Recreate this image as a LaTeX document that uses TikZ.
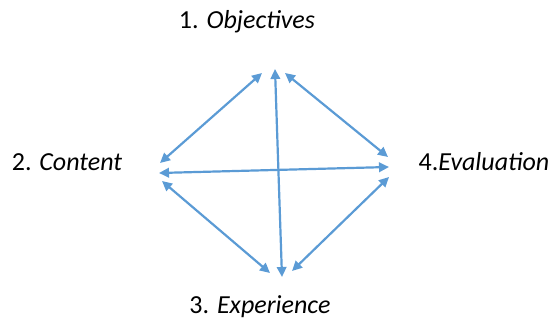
\documentclass[tikz,border=0pt]{standalone}
\usepackage{fontspec}
\setmainfont{Carlito}
\usetikzlibrary{arrows.meta}
\definecolor{arrowblue}{HTML}{5B9BD5}

\begin{document}
\begin{tikzpicture}[x=1pt, y=-1pt,
  link/.style={arrowblue, line width=2.2pt,
    {Triangle[length=10pt,width=9.5pt]}-{Triangle[length=10pt,width=9.5pt]}},
  label/.style={font=\fontsize{26}{30}\selectfont, inner sep=0pt}]

\useasboundingbox (0,0) rectangle (554,323);

%% === labels ===
\node[label] (obj)  at (247,22)  {1. \textit{Objectives}};
\node[label] (cont) at (67,162)  {2. \textit{Content}};
\node[label] (exp)  at (260,307) {3. \textit{Experience}};
\node[label] (eval) at (484,162) {4.\textit{Evaluation}};

%% === arrow ends ===
% top
\coordinate (tl) at (262,73);
\coordinate (tc) at (275,69);
\coordinate (tr) at (285,73);
% left
\coordinate (lt) at (160,163);
\coordinate (lc) at (159,173);
\coordinate (lb) at (162,181);
% right
\coordinate (rt) at (388,157);
\coordinate (rc) at (389,167);
\coordinate (rb) at (389,177);
% bottom
\coordinate (bl) at (270,273);
\coordinate (bc) at (282,277);
\coordinate (br) at (292,271);

%% === connectors ===
\draw[link] (lt) -- (tl);
\draw[link] (tr) -- (rt);
\draw[link] (lb) -- (bl);
\draw[link] (br) -- (rb);
\draw[link] (tc) -- (bc);
\draw[link] (lc) -- (rc);

\end{tikzpicture}
\end{document}
